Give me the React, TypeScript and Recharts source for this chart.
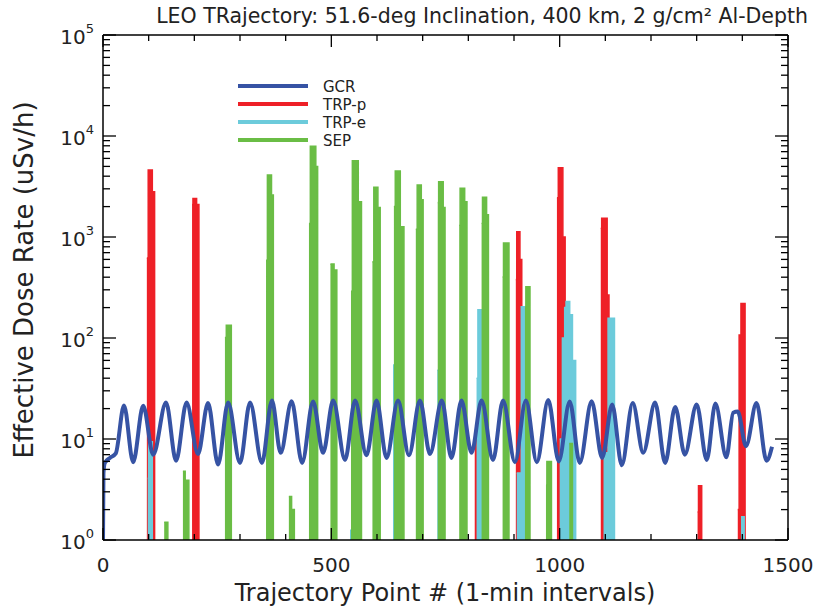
import React from 'react';
import { ComposedChart, Line, Area, XAxis, YAxis } from 'recharts';

// GCR dose rate at its crests and troughs: [trajectory point, uSv/h]
const gcrPoints: [number, number][] = [
  [0, 1], [1, 4.6], [4, 5.8], [15, 6.5], [28, 7.2], [46, 21.5], [66, 5.9], [88, 21.3],
  [110, 7.0], [138, 23], [160, 6.1], [183, 23], [208, 7.1], [230, 22.7], [252, 5.6],
  [274, 23], [300, 5.8], [322, 23], [348, 5.8], [370, 24], [389, 7.3], [413, 23.6],
  [436, 5.8], [460, 23.5], [482, 7.3], [504, 24], [530, 6.2], [552, 24], [577, 6.9],
  [599, 24], [621, 6.5], [646, 24], [670, 6.9], [694, 24], [716, 7.1], [742, 24],
  [763, 6.5], [785, 24], [807, 7.3], [829, 24], [854, 6.2], [876, 24], [902, 5.9],
  [926, 24], [950, 5.9], [975, 24.3], [998, 6.0], [1022, 23.5], [1044, 5.8], [1070, 23.6],
  [1093, 6.5], [1115, 22], [1136, 5.5], [1160, 22.7], [1183, 7.3], [1209, 23], [1231, 5.8],
  [1253, 20.8], [1274, 7.0], [1300, 22], [1322, 6.2], [1341, 22.4], [1365, 6.6],
  [1380, 18.2], [1390, 18.7], [1408, 8.5], [1431, 22.7], [1453, 6.1], [1465, 8.4],
];

// trapped protons, one list of steps per pass
const trpPSpikes: [number, number][][] = [
  [[96, 620], [99, 4600], [108, 2800], [113, 1]],
  [[195, 2100], [197, 2400], [205, 2100], [210, 1]],
  [[814, 10.5], [823, 1]],
  [[904, 380], [906, 1130], [913, 600], [917, 1]],
  [[994, 2450], [997, 4850], [1007, 1000], [1012, 1]],
  [[1090, 1220], [1092, 1530], [1104, 267], [1108, 1]],
  [[1302, 1.9], [1304, 3.45], [1311, 1]],
  [[1390, 2.0], [1393, 107], [1397, 220], [1406, 1]],
];

// trapped electrons
const trpESpikes: [number, number][][] = [
  [[98, 4.1], [100, 9.4], [108, 1]],
  [[541, 1.25], [544, 1]],
  [[635, 54], [639, 1]],
  [[732, 48], [737, 1]],
  [[818, 40], [821, 190], [829, 100], [834, 1]],
  [[906, 4.6], [916, 204], [926, 8.8], [930, 1]],
  [[1000, 10], [1006, 100], [1011, 200], [1014, 230], [1022, 170], [1028, 60], [1035, 1]],
  [[1096, 7.3], [1106, 157], [1120, 1]],
  [[1397, 1.7], [1404, 1]],
];

// solar energetic particles
const sepSpikes: [number, number][][] = [
  [[134, 1.5], [142, 1]],
  [[175, 4.8], [180, 3.9], [188, 1]],
  [[267, 101], [270, 134], [281, 1]],
  [[357, 590], [360, 4100], [369, 2600], [373, 1]],
  [[407, 2.7], [413, 2.0], [419, 1]],
  [[451, 1360], [454, 7900], [466, 5000], [470, 1]],
  [[498, 540], [506, 470], [512, 1]],
  [[543, 290], [546, 5700], [559, 2230], [566, 1]],
  [[590, 570], [593, 3100], [602, 1960], [607, 1]],
  [[637, 2000], [640, 4500], [651, 1260], [659, 1]],
  [[685, 1190], [688, 3270], [697, 2340], [701, 1]],
  [[733, 2190], [735, 3530], [745, 1960], [749, 1]],
  [[780, 1310], [782, 3030], [792, 2230], [797, 1]],
  [[829, 1370], [831, 2470], [840, 1660], [844, 1]],
  [[875, 405], [877, 870], [889, 1]],
  [[924, 200], [926, 322], [935, 1]],
  [[970, 3.5], [972, 6.0], [982, 1]],
  [[1021, 9], [1028, 1]],
];

const xTicks = [0, 100, 200, 300, 400, 500, 600, 700, 800, 900, 1000, 1100, 1200, 1300, 1400, 1500];
const yTicks = [
  1, 2, 3, 4, 5, 6, 7, 8, 9,
  10, 20, 30, 40, 50, 60, 70, 80, 90,
  100, 200, 300, 400, 500, 600, 700, 800, 900,
  1000, 2000, 3000, 4000, 5000, 6000, 7000, 8000, 9000,
  10000, 20000, 30000, 40000, 50000, 60000, 70000, 80000, 90000,
  100000,
];

const series = [
  { name: 'GCR', color: '#3653a4' },
  { name: 'TRP-p', color: '#ee2027' },
  { name: 'TRP-e', color: '#6ccbdb' },
  { name: 'SEP', color: '#6abd45' },
];

const FONT = '"DejaVu Sans", sans-serif';
const INK = '#222';

const gcrData = gcrPoints.map(([x, y]) => ({ x, y }));

// spikes -> one step series, broken by a null after each pass
const toSteps = (spikes: [number, number][][]) =>
  spikes.flatMap((s) => [
    ...s.map(([x, y]) => ({ x, y })),
    { x: s[s.length - 1][0] + 0.5, y: null as number | null },
  ]);

const isDecade = (v: number) => Math.abs(Math.log10(v) - Math.round(Math.log10(v))) < 1e-9;

const tickMark = (x1: number, y1: number, x2: number, y2: number) => (
  <path d={`M${x1},${y1}L${x2},${y2}`} stroke="#000" strokeWidth={1.3} fill="none" />
);

const renderBottomTick = (props: any) => {
  const x = Number(props.x);
  const y = Number(props.y);
  const v = props.payload.value;
  const major = v % 500 === 0;
  return (
    <g>
      {tickMark(x, y, x, y - (major ? 12 : 6))}
      {major && (
        <text x={x} y={y + 32} textAnchor="middle" fontSize={20} fill={INK} stroke="none" fontFamily={FONT}>
          {v}
        </text>
      )}
    </g>
  );
};

const renderTopTick = (props: any) => {
  const x = Number(props.x);
  const y = Number(props.y);
  const major = props.payload.value % 500 === 0;
  return <g>{tickMark(x, y, x, y + (major ? 12 : 6))}</g>;
};

const renderLeftTick = (props: any) => {
  const x = Number(props.x);
  const y = Number(props.y);
  const v = props.payload.value;
  const major = isDecade(v);
  return (
    <g>
      {tickMark(x, y, x + (major ? 13 : 7), y)}
      {major && (
        <text x={x - 9} y={y + 9} textAnchor="end" fontSize={20} fill={INK} stroke="none" fontFamily={FONT}>
          10
          <tspan dy={-11} fontSize={13}>{Math.round(Math.log10(v))}</tspan>
        </text>
      )}
    </g>
  );
};

const renderRightTick = (props: any) => {
  const x = Number(props.x);
  const y = Number(props.y);
  const major = isDecade(props.payload.value);
  return <g>{tickMark(x, y, x - (major ? 13 : 7), y)}</g>;
};

export default function App() {
  return (
    <div style={{ position: 'absolute', left: 0, top: 0, width: 817, height: 609, background: '#fff' }}>
      <ComposedChart width={817} height={609} margin={{ top: 34, right: 28, bottom: 0, left: 0 }}>
        <XAxis
          xAxisId="b"
          type="number"
          dataKey="x"
          domain={[0, 1500]}
          ticks={xTicks}
          interval={0}
          height={69}
          tickSize={0}
          tickMargin={0}
          tickLine={false}
          tick={renderBottomTick}
          axisLine={{ stroke: '#000', strokeWidth: 1.5 }}
          allowDataOverflow
        />
        <XAxis
          xAxisId="t"
          orientation="top"
          type="number"
          dataKey="x"
          domain={[0, 1500]}
          ticks={xTicks}
          interval={0}
          height={1}
          tickSize={0}
          tickMargin={0}
          tickLine={false}
          tick={renderTopTick}
          axisLine={{ stroke: '#000', strokeWidth: 1.5 }}
          allowDataOverflow
        />
        <YAxis
          yAxisId="l"
          type="number"
          scale="log"
          domain={[1, 100000]}
          ticks={yTicks}
          interval={0}
          width={103}
          tickSize={0}
          tickMargin={0}
          tickLine={false}
          tick={renderLeftTick}
          axisLine={{ stroke: '#000', strokeWidth: 1.5 }}
          allowDataOverflow
        />
        <YAxis
          yAxisId="r"
          orientation="right"
          type="number"
          scale="log"
          domain={[1, 100000]}
          ticks={yTicks}
          interval={0}
          width={1}
          tickSize={0}
          tickMargin={0}
          tickLine={false}
          tick={renderRightTick}
          axisLine={{ stroke: '#000', strokeWidth: 1.5 }}
          allowDataOverflow
        />
        {/* invisible copy so the mirrored frame axes have a series of their own */}
        <Line
          xAxisId="t"
          yAxisId="r"
          data={gcrData}
          dataKey="y"
          stroke="none"
          dot={false}
          activeDot={false}
          isAnimationActive={false}
          legendType="none"
        />
        <Line
          xAxisId="b"
          yAxisId="l"
          data={gcrData}
          dataKey="y"
          type="monotone"
          stroke={series[0].color}
          strokeWidth={4}
          dot={false}
          isAnimationActive={false}
        />
        <Area
          xAxisId="b"
          yAxisId="l"
          data={toSteps(trpPSpikes)}
          dataKey="y"
          type="stepAfter"
          baseValue={1}
          stroke={series[1].color}
          strokeWidth={1.5}
          fill={series[1].color}
          fillOpacity={1}
          isAnimationActive={false}
        />
        <Area
          xAxisId="b"
          yAxisId="l"
          data={toSteps(trpESpikes)}
          dataKey="y"
          type="stepAfter"
          baseValue={1}
          stroke={series[2].color}
          strokeWidth={1.5}
          fill={series[2].color}
          fillOpacity={1}
          isAnimationActive={false}
        />
        <Area
          xAxisId="b"
          yAxisId="l"
          data={toSteps(sepSpikes)}
          dataKey="y"
          type="stepAfter"
          baseValue={1}
          stroke={series[3].color}
          strokeWidth={1.5}
          fill={series[3].color}
          fillOpacity={1}
          isAnimationActive={false}
        />
      </ComposedChart>
      <svg
        width={817}
        height={609}
        style={{ position: 'absolute', left: 0, top: 0, pointerEvents: 'none' }}
        fontFamily={FONT}
        fill={INK}
      >
        <text x={808} y={23} textAnchor="end" fontSize={20.5}>
          LEO TRajectory: 51.6-deg Inclination, 400 km, 2 g/cm² Al-Depth
        </text>
        <text x={445} y={601} textAnchor="middle" fontSize={24}>
          Trajectory Point # (1-min intervals)
        </text>
        <text x={33} y={280} textAnchor="middle" fontSize={26} transform="rotate(-90 33 280)">
          Effective Dose Rate (uSv/h)
        </text>
        {series.map((s, i) => (
          <g key={s.name}>
            <line x1={238} x2={308} y1={86 + i * 18} y2={86 + i * 18} stroke={s.color} strokeWidth={4} />
            <text x={323} y={86 + i * 18 + 6} fontSize={15}>
              {s.name}
            </text>
          </g>
        ))}
      </svg>
    </div>
  );
}
